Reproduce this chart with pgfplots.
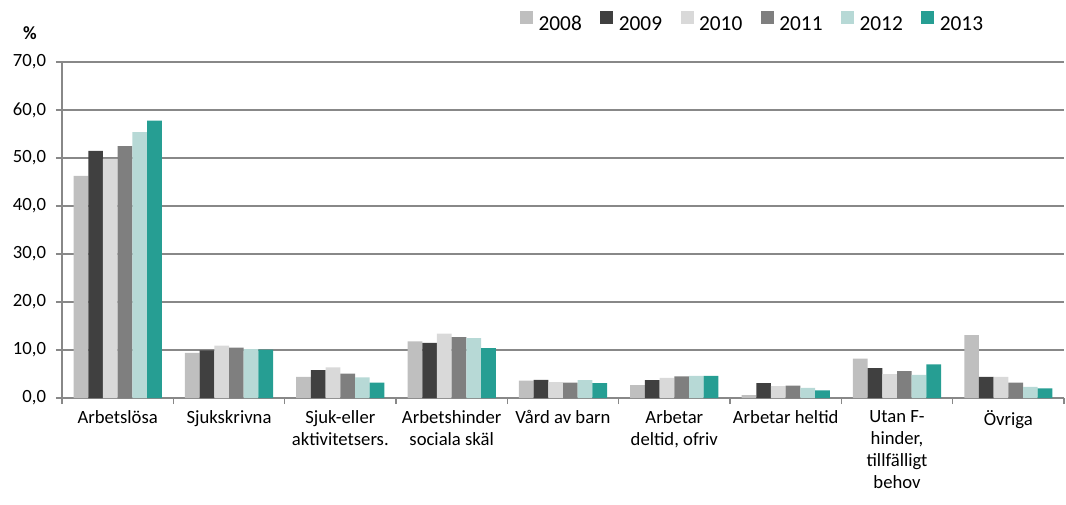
\documentclass[border=0pt]{standalone}
\usepackage{pgfplots}
\pgfplotsset{compat=1.18}
\usepackage{fontspec}
\setmainfont{Carlito}

\definecolor{c08}{HTML}{BFBFBF}
\definecolor{c09}{HTML}{404040}
\definecolor{c10}{HTML}{D9D9D9}
\definecolor{c11}{HTML}{7F7F7F}
\definecolor{c12}{HTML}{B7D9D6}
\definecolor{c13}{HTML}{269E93}
\definecolor{gridgray}{HTML}{888888}

\begin{document}
\begin{tikzpicture}
  % 1px of the reference = 0.75pt
  \useasboundingbox (-46.5pt,-79.5pt) rectangle (753pt,298.5pt);
  \begin{axis}[
    scale only axis,
    width=751.5pt,
    height=252pt,
    clip=false,
    ybar=0pt,
    bar width=0.132,
    xmin=-0.5, xmax=8.5,
    ymin=0, ymax=70,
    ytick={0,10,...,70},
    ymajorgrids,
    grid style={draw=gridgray, line width=1pt},
    axis x line=bottom,
    axis y line=left,
    axis line style={-, draw=gridgray, line width=1pt},
    tick style={draw=gridgray, line width=1pt},
    tick align=outside,
    major tick length=4.5pt,
    xtick={-0.5,0.5,...,8.5},
    xticklabels={},
    extra x ticks={0,1,...,8},
    extra x tick labels={Arbetslösa, Sjukskrivna, {Sjuk-eller\\aktivitetsers.},
      {Arbetshinder\\sociala skäl}, Vård av barn, {Arbetar\\deltid, ofriv},
      Arbetar heltid, {Utan F-\\hinder,\\tillfälligt\\behov}, Övriga},
    extra x tick style={major tick length=0pt, grid=none,
      xticklabel style={align=center, yshift=-6pt,
        font=\fontsize{14}{16.5}\selectfont}},
    yticklabel style={font=\fontsize{14}{16.5}\selectfont, xshift=-4pt},
    /pgf/number format/.cd, fixed, fixed zerofill, precision=1, use comma,
      assume math mode=true,
    /pgfplots/.cd,
    legend style={at={(0.6896,1.116)}, anchor=center, draw=none, fill=none,
      font=\fontsize{16}{19}\selectfont,
      /tikz/every odd column/.append style={column sep=2pt},
      /tikz/every even column/.append style={column sep=12pt}},
    legend columns=6,
    legend image code/.code={\fill[#1] (0pt,0.1pt) rectangle (9.75pt,9.85pt);},
    every axis plot/.append style={draw=none},
  ]
    \addplot[fill=c08] coordinates {(0,46.3) (1,9.4) (2,4.4) (3,11.8) (4,3.6) (5,2.7) (6,0.6) (7,8.2) (8,13.1)};
    \addplot[fill=c09] coordinates {(0,51.5) (1,9.9) (2,5.8) (3,11.5) (4,3.8) (5,3.7) (6,3.1) (7,6.2) (8,4.4)};
    \addplot[fill=c10] coordinates {(0,49.8) (1,10.9) (2,6.4) (3,13.4) (4,3.3) (5,4.2) (6,2.5) (7,5.0) (8,4.4)};
    \addplot[fill=c11] coordinates {(0,52.5) (1,10.5) (2,5.1) (3,12.7) (4,3.2) (5,4.5) (6,2.6) (7,5.6) (8,3.2)};
    \addplot[fill=c12] coordinates {(0,55.4) (1,10.2) (2,4.3) (3,12.5) (4,3.7) (5,4.6) (6,2.1) (7,4.8) (8,2.3)};
    \addplot[fill=c13] coordinates {(0,57.8) (1,10.1) (2,3.2) (3,10.4) (4,3.1) (5,4.6) (6,1.6) (7,7.0) (8,2.0)};
    \legend{2008,2009,2010,2011,2012,2013}
    \node[font=\bfseries\fontsize{14}{16.5}\selectfont] at (axis description cs:-0.032,1.086) {\%};
  \end{axis}
\end{tikzpicture}
\end{document}
